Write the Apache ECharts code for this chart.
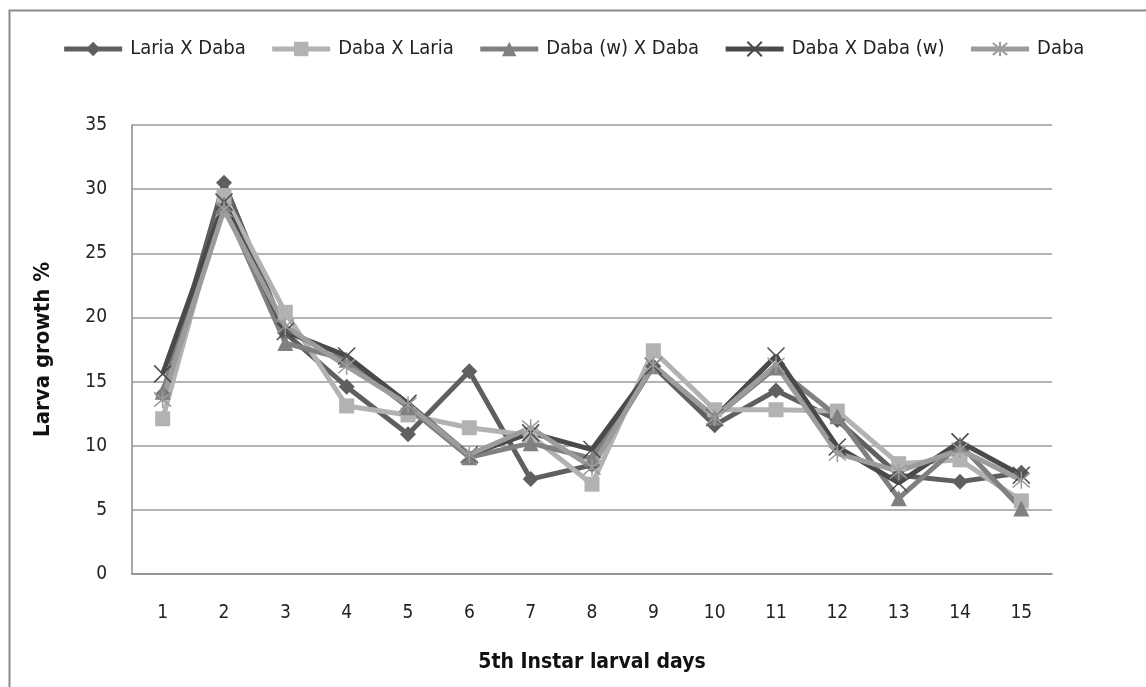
<!DOCTYPE html>
<html>
<head>
<meta charset="utf-8">
<script src="https://cdn.jsdelivr.net/npm/echarts@6/dist/echarts.min.js"></script>
<style>
html,body{margin:0;padding:0;background:#fff;}
#chart{width:1146px;height:687px;}
</style>
</head>
<body>
<div id="chart"></div>
<script>
var days = ['1','2','3','4','5','6','7','8','9','10','11','12','13','14','15'];
var yTicks = [0,5,10,15,20,25,30,35];
var lariaXDaba   = [14.0, 30.5, 18.8, 14.6, 10.9, 15.8, 7.4, 8.5, 16.2, 11.6, 14.3, 12.0, 7.7, 7.2, 7.9];
var dabaXLaria   = [12.1, 29.5, 20.4, 13.1, 12.4, 11.4, 10.8, 7.0, 17.4, 12.8, 12.8, 12.7, 8.6, 8.9, 5.7];
var dabaWXDaba   = [14.2, 28.8, 18.0, 16.7, 13.0, 9.1, 10.2, 9.0, 16.2, 12.2, 16.1, 12.3, 5.9, 10.1, 5.1];
var dabaXDabaW   = [15.6, 29.0, 18.9, 17.0, 13.3, 9.3, 11.0, 9.7, 16.2, 12.2, 17.0, 9.9, 7.1, 10.3, 7.7];
var daba         = [13.6, 28.4, 19.3, 16.2, 13.2, 9.3, 11.4, 8.3, 16.3, 12.2, 16.3, 9.4, 8.0, 9.7, 7.3];
var seriesNames = ['Laria X Daba','Daba X Laria','Daba (w) X Daba','Daba X Daba (w)','Daba'];

var FONT = '"Liberation Sans Narrow","DejaVu Sans Condensed","Liberation Sans",sans-serif';
var X_PATH = 'path://M0,0L10,10M10,0L0,10';
var STAR_PATH = 'path://M0,0L10,10M10,0L0,10M5,-1L5,11';

function mk(name, data, color, symbol, size, hollow){
  var s = {
    name: name, type: 'line', data: data,
    symbol: symbol, symbolSize: size,
    lineStyle: {color: color, width: 5},
    itemStyle: hollow ? {color: color, borderColor: color, borderWidth: 1.5} : {color: color},
    emphasis: {disabled: true},
    animation: false
  };
  return s;
}

var chart = echarts.init(document.getElementById('chart'), null, {renderer:'canvas'});
chart.setOption({
  backgroundColor: '#fff',
  animation: false,
  graphic: [{
    type: 'rect', left: 7, top: 8, silent: true,
    shape: {width: 1200, height: 800},
    style: {fill: 'none', stroke: '#8a8a8a', lineWidth: 2}
  }],
  legend: {
    top: 34, left: 'center',
    itemWidth: 58, itemHeight: 18, itemGap: 24,
    lineStyle: {width: 5},
    textStyle: {fontFamily: FONT, fontSize: 20, color: '#222', padding: [0, 0, 0, 3]},
    data: seriesNames
  },
  grid: {left: 132, right: 94, top: 125, bottom: 113},
  xAxis: {
    type: 'category', data: days, boundaryGap: true,
    name: '5th Instar larval days', nameLocation: 'middle', nameGap: 78,
    nameTextStyle: {fontFamily: FONT, fontSize: 21, fontWeight: 'bold', color: '#111'},
    axisLine: {lineStyle: {color: '#8a8a8a', width: 1.5}},
    axisTick: {show: false},
    axisLabel: {fontFamily: FONT, fontSize: 19, color: '#222', margin: 30}
  },
  yAxis: {
    type: 'value', min: 0, max: 35, interval: 5,
    name: 'Larva growth %', nameLocation: 'middle', nameGap: 78,
    nameTextStyle: {fontFamily: FONT, fontSize: 22, fontWeight: 'bold', color: '#111'},
    axisLine: {show: true, lineStyle: {color: '#8a8a8a', width: 1.5}},
    axisTick: {show: false},
    splitLine: {lineStyle: {color: '#9a9a9a', width: 1.5}},
    axisLabel: {fontFamily: FONT, fontSize: 19, color: '#222', margin: 25}
  },
  series: [
    mk(seriesNames[0], lariaXDaba, '#5f5f5f', 'diamond', 16, false),
    mk(seriesNames[1], dabaXLaria, '#b2b2b2', 'rect', 15, false),
    mk(seriesNames[2], dabaWXDaba, '#808080', 'triangle', 16, false),
    mk(seriesNames[3], dabaXDabaW, '#4a4a4a', X_PATH, 17, true),
    mk(seriesNames[4], daba, '#9c9c9c', STAR_PATH, 17, true)
  ]
});
</script>
</body>
</html>
